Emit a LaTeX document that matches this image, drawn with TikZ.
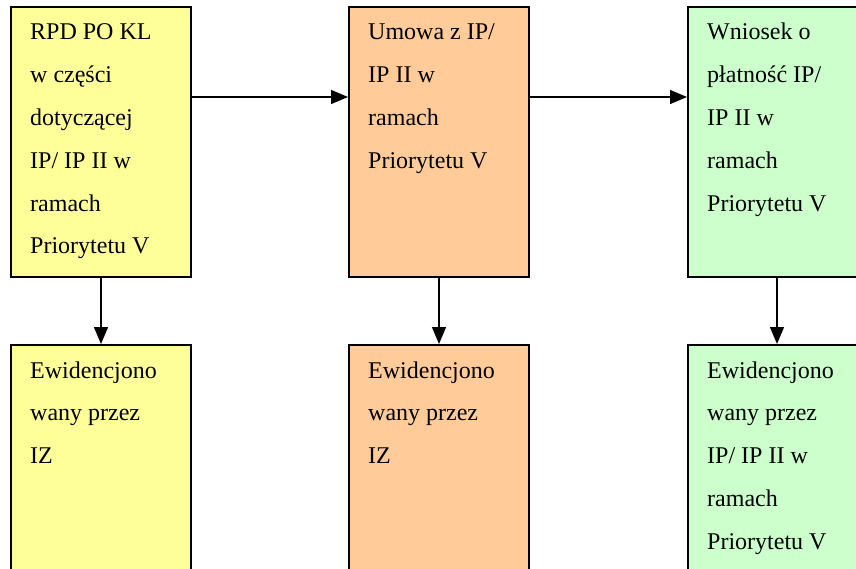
\documentclass[tikz,border=0pt]{standalone}
\usepackage{fontspec}
\setmainfont{Liberation Serif}
\usetikzlibrary{arrows.meta}
\definecolor{cyel}{HTML}{FFFF99}
\definecolor{corg}{HTML}{FFCC99}
\definecolor{cgrn}{HTML}{CCFFCC}
\tikzset{
  boxnode/.style={draw=black, line width=2pt, rectangle, inner sep=0pt, anchor=north west, minimum width=180pt},
  topbox/.style={boxnode, minimum height=270pt},
  botbox/.style={boxnode, minimum height=270pt},
  widebox/.style={minimum width=220pt},
  txt/.style={anchor=base west, inner sep=0pt, font=\fontsize{24}{42.8}\selectfont},
  arr/.style={line width=1.4pt, -{Triangle[length=17pt,width=14pt]}}
}
\newcommand{\boxtext}[1]{\parbox[t]{170pt}{#1}}
\begin{document}
\begin{tikzpicture}[x=1pt,y=-1pt]
\useasboundingbox (0,0) rectangle (856,569);
\clip (0,0) rectangle (856,569);
\fill[white] (0,0) rectangle (856,569);
% top boxes
\node[topbox, fill=cyel] (b1) at (10,6) {};
\node[topbox, fill=corg] (b2) at (348,6) {};
\node[topbox, widebox, fill=cgrn] (b3) at (687,6) {};
% bottom boxes
\node[botbox, fill=cyel] (c1) at (10,344) {};
\node[botbox, fill=corg] (c2) at (348,344) {};
\node[botbox, widebox, fill=cgrn] (c3) at (687,344) {};
% texts
\node[txt] (t1) at (30,40) {\boxtext{RPD PO KL\\w części\\dotyczącej\\IP/ IP II w\\ramach\\Priorytetu V}};
\node[txt] (t2) at (368,40) {\boxtext{Umowa z IP/\\IP II w\\ramach\\Priorytetu V}};
\node[txt] (t3) at (707,40) {\boxtext{Wniosek o\\płatność IP/\\IP II w\\ramach\\Priorytetu V}};
\node[txt] (u1) at (30,378) {\boxtext{Ewidencjono\\wany przez\\IZ}};
\node[txt] (u2) at (368,378) {\boxtext{Ewidencjono\\wany przez\\IZ}};
\node[txt] (u3) at (707,378) {\boxtext{Ewidencjono\\wany przez\\IP/ IP II w\\ramach\\Priorytetu V}};
% connectors
\coordinate (r) at (0,97);
\draw[arr] (b1.east |- r) -- (b2.west |- r);
\draw[arr] (b2.east |- r) -- (b3.west |- r);
\draw[arr] (b1.south) -- (c1.north);
\draw[arr] (b2.south) -- (c2.north);
\draw[arr] ([xshift=90pt]b3.south west) -- ([xshift=90pt]c3.north west);
\end{tikzpicture}
\end{document}
